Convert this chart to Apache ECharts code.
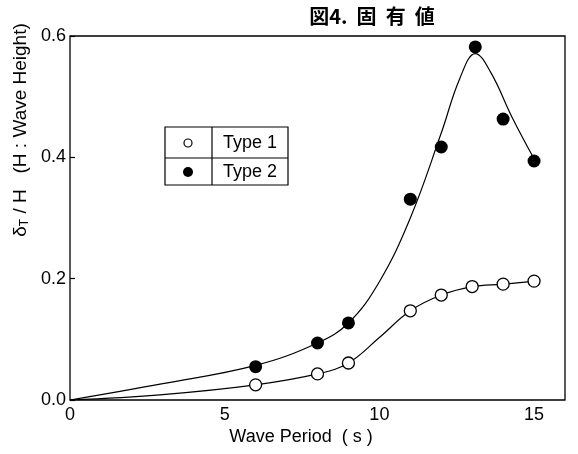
<!DOCTYPE html>
<html>
<head>
<meta charset="utf-8">
<script src="https://cdn.jsdelivr.net/npm/echarts@6/dist/echarts.min.js"></script>
<style>
html,body{margin:0;padding:0;background:#fff;}
#chart{width:578px;height:454px;}
</style>
</head>
<body>
<div id="chart"></div>
<script>
// Measured markers (wave period s, deltaT/H)
const type1Points = [[6,0.025],[8,0.043],[9,0.061],[11,0.147],[12,0.173],[13,0.187],[14,0.191],[15,0.196]];
const type2Points = [[6,0.055],[8,0.094],[9,0.127],[11,0.331],[12,0.417],[13.1,0.582],[14,0.463],[15,0.394]];
// Fitted curves
const type1Curve = [[0,0],[3,0.009],[6,0.025],[8,0.043],[9,0.061],[10,0.103],[11,0.147],[12,0.173],[13,0.187],[14,0.191],[15,0.196]];
const type2Curve = [[0,0],[3,0.027],[6,0.057],[8,0.094],[9,0.127],[10,0.195],[11,0.30],[12,0.44],[12.6,0.53],[13.1,0.571],[13.6,0.54],[14.3,0.465],[15.05,0.393]];
const seriesNames = ['Type 1','Type 2'];
const titleText = '図4.  固  有  値';
const xTitle = 'Wave Period  ( s )';

const FONT = 'Liberation Sans';
const chart = echarts.init(document.getElementById('chart'), null, {renderer:'canvas'});
const lineStyle = {color:'#000', width:1.2};
chart.setOption({
  backgroundColor:'#fff',
  animation:false,
  grid:{left:70,right:13,top:36,bottom:54,show:true,borderColor:'#000',borderWidth:1.3,backgroundColor:'transparent'},
  xAxis:{type:'value',min:0,max:16,interval:5,
    axisLine:{show:false},axisTick:{show:false},splitLine:{show:false},
    axisLabel:{showMaxLabel:false,color:'#000',fontFamily:FONT,fontSize:18,margin:6}},
  yAxis:{type:'value',min:0,max:0.6,interval:0.2,
    axisLine:{show:false},axisTick:{show:true,inside:true,length:5,lineStyle:{color:'#000',width:1.2}},splitLine:{show:false},
    axisLabel:{color:'#000',fontFamily:FONT,fontSize:18,margin:4,formatter:v=>v.toFixed(1)}},
  graphic:[
    {type:'text',x:372,y:16,style:{text:titleText,font:'bold 20px "Noto Sans CJK JP"',fill:'#000',textAlign:'center',textVerticalAlign:'middle'}},
    {type:'text',x:301,y:437,style:{text:xTitle,font:'18px "Liberation Sans"',fill:'#000',textAlign:'center',textVerticalAlign:'middle'}},
    {type:'text',x:21,y:130,rotation:Math.PI/2,style:{
      text:'{a|δ}{s|T}{a| / H   (H : Wave Height)}',
      textAlign:'center',textVerticalAlign:'middle',
      rich:{a:{fontFamily:FONT,fontSize:19,fill:'#000'},s:{fontFamily:FONT,fontSize:12,fill:'#000',padding:[7,0,0,0]}}}},
    // legend table
    {type:'group',children:[
      {type:'rect',shape:{x:165,y:127,width:123,height:58},style:{fill:'#fff',stroke:'#000',lineWidth:1.2}},
      {type:'line',shape:{x1:212,y1:127,x2:212,y2:185},style:{stroke:'#000',lineWidth:1.2}},
      {type:'line',shape:{x1:165,y1:158,x2:288,y2:158},style:{stroke:'#000',lineWidth:1.2}},
      {type:'circle',shape:{cx:188,cy:143,r:4},style:{fill:'#fff',stroke:'#000',lineWidth:1.2}},
      {type:'circle',shape:{cx:188,cy:172,r:5},style:{fill:'#000'}},
      {type:'text',x:223,y:143,style:{text:seriesNames[0],font:'18px "Liberation Sans"',fill:'#000',textVerticalAlign:'middle'}},
      {type:'text',x:223,y:172,style:{text:seriesNames[1],font:'18px "Liberation Sans"',fill:'#000',textVerticalAlign:'middle'}}
    ]}
  ],
  series:[
    {name:'curve1',type:'line',data:type1Curve,smooth:0.4,showSymbol:false,symbol:'none',lineStyle:lineStyle,z:2,silent:true},
    {name:'curve2',type:'line',data:type2Curve,smooth:0.4,showSymbol:false,symbol:'none',lineStyle:lineStyle,z:2,silent:true},
    {name:seriesNames[0],type:'scatter',data:type1Points,symbol:'circle',symbolSize:12,z:3,
      itemStyle:{color:'#fff',borderColor:'#000',borderWidth:1.3,opacity:1}},
    {name:seriesNames[1],type:'scatter',data:type2Points,symbol:'circle',symbolSize:13,z:3,
      itemStyle:{color:'#000',opacity:1}}
  ]
});
</script>
</body>
</html>
